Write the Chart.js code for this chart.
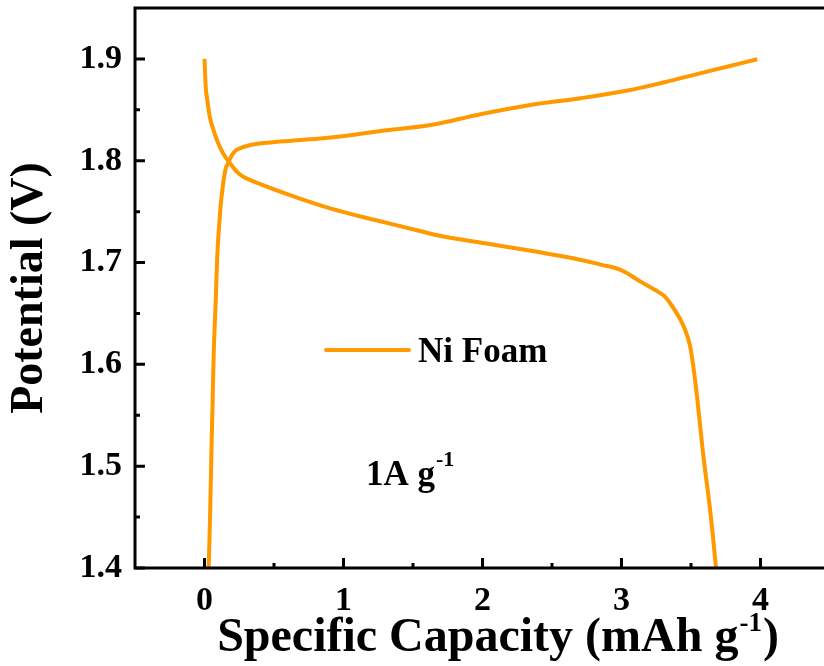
<!DOCTYPE html>
<html>
<head>
<meta charset="utf-8">
<script src="https://cdn.jsdelivr.net/npm/chart.js@4.4.1/dist/chart.umd.min.js"></script>
<style>
  html, body { margin: 0; padding: 0; background: #fff; overflow: hidden; }
  #wrap { width: 832px; height: 666px; }
</style>
</head>
<body>
<div id="wrap"><canvas id="gcd" width="832" height="666"></canvas></div>
<script>
// charge branch (capacity, potential)
const chargeCap = [0.03, 0.04, 0.05, 0.058, 0.067, 0.08, 0.094, 0.11, 0.12, 0.15, 0.175, 0.20, 0.235, 0.33, 0.475, 0.76, 1.05, 1.266, 1.626, 1.986, 2.345, 2.705, 3.065, 3.30, 3.55, 3.78, 3.976];
const chargeV   = [1.40, 1.45, 1.516, 1.56, 1.614, 1.66, 1.712, 1.745, 1.761, 1.791, 1.799, 1.806, 1.811, 1.8155, 1.818, 1.821, 1.825, 1.8293, 1.8350, 1.8457, 1.8548, 1.8614, 1.8695, 1.8768, 1.8853, 1.8931, 1.8997];

// discharge branch
const dischargeCap = [0.0, 0.01, 0.02, 0.03, 0.043, 0.065, 0.09, 0.13, 0.175, 0.25, 0.33, 0.62, 0.91, 1.22, 1.55, 1.70, 2.06, 2.37, 2.66, 2.85, 2.99, 3.14, 3.30, 3.35, 3.42, 3.46, 3.49, 3.51, 3.53, 3.55, 3.59, 3.64, 3.68];
const dischargeV   = [1.90, 1.87, 1.86, 1.85, 1.84, 1.83, 1.82, 1.808, 1.799, 1.787, 1.781, 1.766, 1.753, 1.742, 1.731, 1.726, 1.718, 1.711, 1.704, 1.698, 1.693, 1.681, 1.668, 1.660, 1.645, 1.633, 1.620, 1.604, 1.584, 1.560, 1.509, 1.454, 1.40];

const xTicks = [0, 1, 2, 3, 4];
const xMinor = [0.5, 1.5, 2.5, 3.5];
const yTicks = [1.4, 1.5, 1.6, 1.7, 1.8, 1.9];
const yMinor = [1.45, 1.55, 1.65, 1.75, 1.85];

const ORANGE = "#FF9900";
const SERIF = "'Liberation Serif', 'Times New Roman', serif";

const toPts = (xs, ys) => xs.map((x, i) => ({ x, y: ys[i] }));

// frame, inward ticks, legend and text labels
const decorPlugin = {
  id: "decor",
  afterDraw(chart) {
    const { ctx, chartArea: a, scales } = chart;
    const xs = scales.x, ys = scales.y;
    ctx.save();
    ctx.strokeStyle = "#000";
    ctx.lineWidth = 3;
    ctx.strokeRect(a.left, a.top, a.right - a.left, a.bottom - a.top);

    ctx.beginPath();
    xTicks.forEach(v => { const p = xs.getPixelForValue(v); ctx.moveTo(p, a.bottom); ctx.lineTo(p, a.bottom - 10); });
    xMinor.forEach(v => { const p = xs.getPixelForValue(v); ctx.moveTo(p, a.bottom); ctx.lineTo(p, a.bottom - 5); });
    yTicks.forEach(v => { const p = ys.getPixelForValue(v); ctx.moveTo(a.left, p); ctx.lineTo(a.left + 10, p); });
    yMinor.forEach(v => { const p = ys.getPixelForValue(v); ctx.moveTo(a.left, p); ctx.lineTo(a.left + 5, p); });
    ctx.stroke();

    // legend
    ctx.strokeStyle = ORANGE;
    ctx.lineWidth = 4;
    ctx.lineCap = "round";
    ctx.beginPath();
    ctx.moveTo(326, 350);
    ctx.lineTo(409, 350);
    ctx.stroke();
    ctx.fillStyle = "#000";
    ctx.textBaseline = "alphabetic";
    ctx.textAlign = "left";
    ctx.font = "bold 35px " + SERIF;
    ctx.fillText("Ni Foam", 418, 362);

    // current density label
    ctx.font = "bold 35px " + SERIF;
    ctx.fillText("1A g", 366, 485);
    let w = ctx.measureText("1A g").width;
    ctx.font = "bold 22px " + SERIF;
    ctx.fillText("-1", 366 + w + 1, 466);

    // x axis title with superscript
    const main = "Specific Capacity (mAh g";
    ctx.font = "bold 48px " + SERIF;
    const wMain = ctx.measureText(main).width;
    const wClose = ctx.measureText(")").width;
    ctx.font = "bold 27px " + SERIF;
    const wSup = ctx.measureText("-1").width;
    const total = wMain + wSup + wClose + 2;
    let x0 = 498 - total / 2;
    ctx.font = "bold 48px " + SERIF;
    ctx.fillText(main, x0, 651);
    ctx.font = "bold 27px " + SERIF;
    ctx.fillText("-1", x0 + wMain + 1, 631);
    ctx.font = "bold 48px " + SERIF;
    ctx.fillText(")", x0 + wMain + wSup + 2, 651);
    ctx.restore();
  }
};

const lineStyle = {
  showLine: true,
  borderColor: ORANGE,
  borderWidth: 4,
  pointRadius: 0,
  tension: 0.4
};

new Chart(document.getElementById("gcd").getContext("2d"), {
  type: "scatter",
  data: {
    datasets: [
      Object.assign({ label: "Ni Foam", data: toPts(chargeCap, chargeV) }, lineStyle),
      Object.assign({ label: "Ni Foam discharge", data: toPts(dischargeCap, dischargeV) }, lineStyle)
    ]
  },
  options: {
    responsive: false,
    animation: false,
    layout: { padding: { top: 8, right: 2, left: 0, bottom: 0 } },
    plugins: {
      legend: { display: false },
      tooltip: { enabled: false }
    },
    scales: {
      x: {
        type: "linear",
        min: -0.5,
        max: 4.5,
        grid: { display: false, drawTicks: false },
        border: { display: false },
        afterBuildTicks: s => { s.ticks = xTicks.map(v => ({ value: v })); },
        afterFit: s => { s.height = 98; s.paddingLeft = 0; s.paddingRight = 0; },
        ticks: {
          color: "#000",
          padding: 13,
          font: { family: SERIF, size: 34, weight: "bold" },
          callback: v => String(v)
        }
      },
      y: {
        type: "linear",
        min: 1.4,
        max: 1.95,
        grid: { display: false, drawTicks: false },
        border: { display: false },
        afterBuildTicks: s => { s.ticks = yTicks.map(v => ({ value: v })); },
        afterFit: s => { s.width = 135; s.paddingTop = 0; s.paddingBottom = 0; },
        ticks: {
          color: "#000",
          padding: 13,
          font: { family: SERIF, size: 34, weight: "bold" },
          callback: v => v.toFixed(1)
        },
        title: {
          display: true,
          text: "Potential (V)",
          color: "#000",
          padding: { top: 3, bottom: 0 },
          font: { family: SERIF, size: 46, weight: "bold" }
        }
      }
    }
  },
  plugins: [decorPlugin]
});
</script>
</body>
</html>
